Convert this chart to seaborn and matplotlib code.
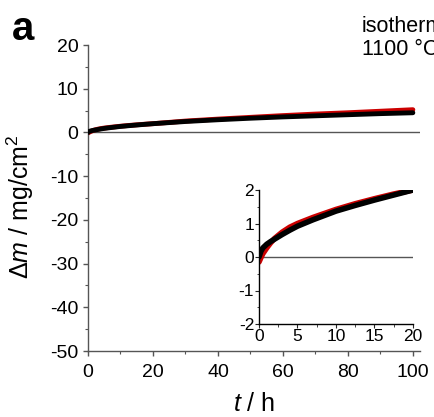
import matplotlib
matplotlib.use("Agg")
import matplotlib.pyplot as plt
from matplotlib.ticker import MultipleLocator
import pandas as pd
import seaborn as sns

# Mass change during isothermal oxidation at 1100 °C
time_h = [0, 0.25, 0.5, 1, 1.5, 2, 3, 4, 5, 7, 10, 12.5, 15, 17.5, 20,
          25, 30, 40, 50, 60, 70, 80, 90, 100]
dm_black = [0.0, 0.17, 0.27, 0.38, 0.46, 0.53, 0.67, 0.80, 0.92, 1.11, 1.37,
            1.54, 1.70, 1.85, 2.00, 2.25, 2.50, 2.90, 3.25, 3.55, 3.80, 4.05,
            4.30, 4.50]
dm_red = [-0.15, -0.02, 0.10, 0.27, 0.42, 0.55, 0.74, 0.89, 1.00, 1.18, 1.42,
          1.59, 1.74, 1.88, 2.00, 2.30, 2.60, 3.05, 3.45, 3.85, 4.20, 4.50,
          4.85, 5.20]

main_xticks = [0, 20, 40, 60, 80, 100]
main_yticks = [20, 10, 0, -10, -20, -30, -40, -50]
inset_xticks = [0, 5, 10, 15, 20]
inset_yticks = [-2, -1, 0, 1, 2]

df = pd.DataFrame({"t": time_h, "black": dm_black, "red": dm_red})

sns.set_style("ticks")
plt.rcParams["font.family"] = ["Liberation Sans", "DejaVu Sans"]
plt.rcParams["mathtext.fontset"] = "custom"
plt.rcParams["mathtext.rm"] = "Liberation Sans"
plt.rcParams["mathtext.it"] = "Liberation Sans:italic"
plt.rcParams["axes.unicode_minus"] = False
plt.rcParams["text.color"] = "black"
plt.rcParams["axes.labelcolor"] = "black"
plt.rcParams["xtick.labelcolor"] = "black"
plt.rcParams["ytick.labelcolor"] = "black"

fig = plt.figure(figsize=(4.35, 4.17), dpi=100)
ax = fig.add_axes([88 / 435, 1 - 351 / 417, 332 / 435, 306 / 417])

spine_col = "#555555"


def draw(axis, lw):
    axis.axhline(0, color="#555555", lw=1.0, zorder=1)
    sns.lineplot(data=df, x="t", y="red", ax=axis, color="#cc0000", lw=lw,
                 zorder=2)
    sns.lineplot(data=df, x="t", y="black", ax=axis, color="black", lw=lw,
                 zorder=3)


draw(ax, 3.5)
ax.set_xlim(0, 102.2)
ax.set_ylim(-50, 20)
ax.set_xticks(main_xticks)
ax.set_yticks(main_yticks)
ax.xaxis.set_minor_locator(MultipleLocator(10))
ax.yaxis.set_minor_locator(MultipleLocator(5))
sns.despine(ax=ax)
for s in ("left", "bottom"):
    ax.spines[s].set_color(spine_col)
    ax.spines[s].set_linewidth(1.0)
ax.tick_params(axis="both", which="major", length=3.5, width=1.0,
               color=spine_col, labelsize=14)
ax.tick_params(axis="x", which="major", pad=6)
ax.tick_params(axis="y", which="major", pad=3.5)
ax.tick_params(axis="both", which="minor", length=2, width=0.8,
               color=spine_col)
ax.set_xlabel(r"$\mathit{t}$ / h", fontsize=18, va="top")
ax.set_ylabel(r"$\Delta\mathit{m}$ / mg/cm$^2$", fontsize=18)
ax.xaxis.set_label_coords(0.5, -0.133)
ax.yaxis.set_label_coords(-0.157, 0.47)

fig.text(362 / 435, 1 - 55 / 417, "isothermal\n1100 °C", fontsize=15.5,
         ha="left", va="baseline", linespacing=1.15)
fig.text(12 / 435, 1 - 40 / 417, "a", fontsize=29, fontweight="bold",
         ha="left", va="baseline")

# Inset: first 20 h
axi = fig.add_axes([259 / 435, 1 - 324 / 417, 154 / 435, 134 / 417])
axi.patch.set_alpha(0)
draw(axi, 4.0)
axi.set_xlim(0, 20)
axi.set_ylim(-2, 2)
axi.set_xticks(inset_xticks)
axi.set_yticks(inset_yticks)
axi.xaxis.set_minor_locator(MultipleLocator(2.5))
axi.yaxis.set_minor_locator(MultipleLocator(0.5))
sns.despine(ax=axi)
for s in ("left", "bottom"):
    axi.spines[s].set_color("black")
    axi.spines[s].set_linewidth(1.0)
axi.tick_params(axis="both", which="major", length=3, width=0.8,
                labelsize=12.5, pad=0.5)
axi.tick_params(axis="both", which="minor", length=1.8, width=0.6)
axi.set_xlabel("")
axi.set_ylabel("")

fig.savefig("out.png", dpi=100)
